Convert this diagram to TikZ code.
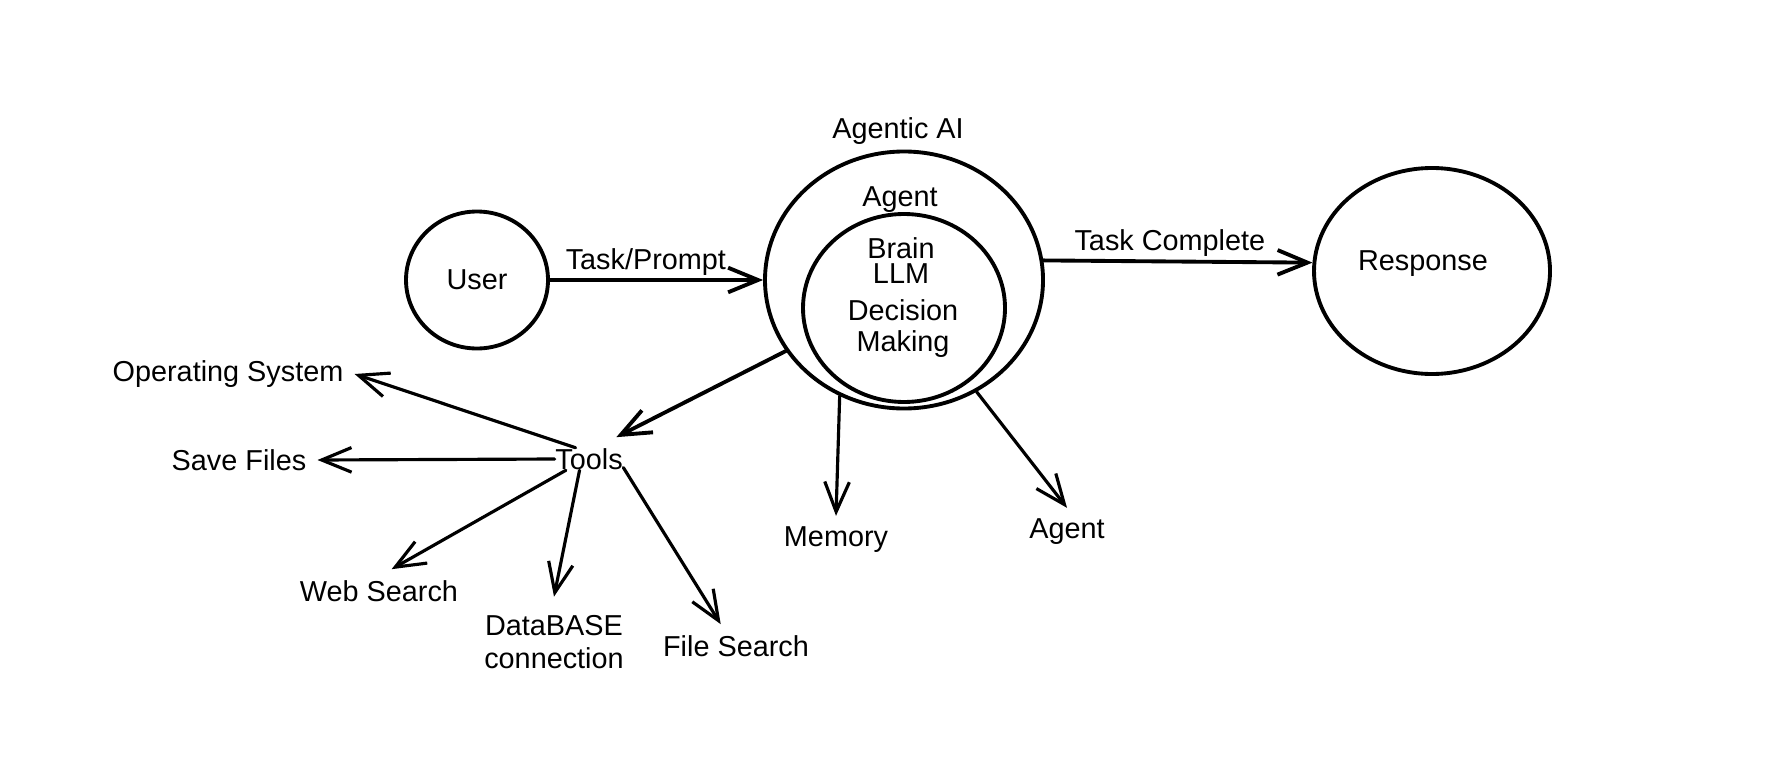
\documentclass[tikz,border=0pt]{standalone}
\usepackage{fontspec}
\setmainfont{Liberation Sans}
\usetikzlibrary{arrows.meta,shapes.geometric}

\begin{document}
\begin{tikzpicture}[
  bubble/.style={ellipse, draw, line width=1.1pt, inner sep=0pt},
  lbl/.style={font=\fontsize{8.2}{9.6}\selectfont, inner sep=3pt},
  arr/.style={-{Straight Barb[length=8.5pt, width=7pt]}, line width=0.9pt,
    line cap=round, line join=round},
]
\useasboundingbox (0,0) rectangle (17.91,-7.71);

% Main row height
\def\rowy{-2.80}

% ============================================================
% Circles
% ============================================================
\node[bubble, lbl, minimum width=1.42cm, minimum height=1.37cm] (user) at (4.77,\rowy) {User};
\node[bubble, minimum width=2.78cm, minimum height=2.57cm] (agentic) at (9.04,\rowy) {};
\node[bubble, minimum width=2.02cm, minimum height=1.88cm] (brainbox) at (9.04,-3.08) {};
\node[bubble, minimum width=2.36cm, minimum height=2.06cm] (response) at (14.32,-2.71) {};

\node[lbl] (agenticlbl) at (8.98,-1.31) {Agentic AI};
\node[lbl] (agentlbl) at (9.00,-2.00) {Agent};
\node[lbl] (brain) at (9.01,-2.48) {Brain};
\node[lbl] (llm) at (9.01,-2.74) {LLM};
\node[lbl] (decision) at (9.03,-3.10) {Decision};
\node[lbl] (making) at (9.03,-3.44) {Making};
\node[lbl] (resplbl) at (14.23,-2.64) {Response};

% ============================================================
% Tools and outputs
% ============================================================
\node[lbl, inner sep=0pt] (tools) at (5.89,-4.59) {Tools};
\node[lbl] (os) at (2.28,-3.74) {Operating System};
\node[lbl] (save) at (2.39,-4.60) {Save Files};
\node[lbl] (web) at (3.79,-5.91) {Web Search};
\node[lbl, align=center] (db) at (5.54,-6.42) {DataBASE\\connection};
\node[lbl] (file) at (7.36,-6.46) {File Search};
\node[lbl] (memory) at (8.36,-5.40) {Memory};
\node[lbl] (agent) at (10.67,-5.32) {Agent};

% ============================================================
% Arrows
% ============================================================
\draw[arr, line width=1.1pt] (user) -- node[above, lbl, inner sep=0.8pt, pos=.45] (tasklbl) {Task/Prompt} (agentic);
\draw[arr, line width=1.1pt] (agentic.8) -- node[above, lbl, inner sep=0.8pt, pos=.47] (donelbl) {Task Complete} (response.176);

\draw[arr, line width=1.1pt] (agentic.211) -- ([shift={(-2pt,3pt)}]tools.north east);
\draw[arr] (agentic.241) -- (memory.north);
\draw[arr] (agentic.303) -- (agent.north);

\draw[arr] (tools.140) -- (os.east);
\draw[arr] (tools.west) -- (save.east);
\draw[arr] (tools.206) -- (web.60);
\draw[arr] (tools.230) -- ([yshift=2pt]db.north);
\draw[arr] (tools.346) -- (file.125);

\end{tikzpicture}
\end{document}
